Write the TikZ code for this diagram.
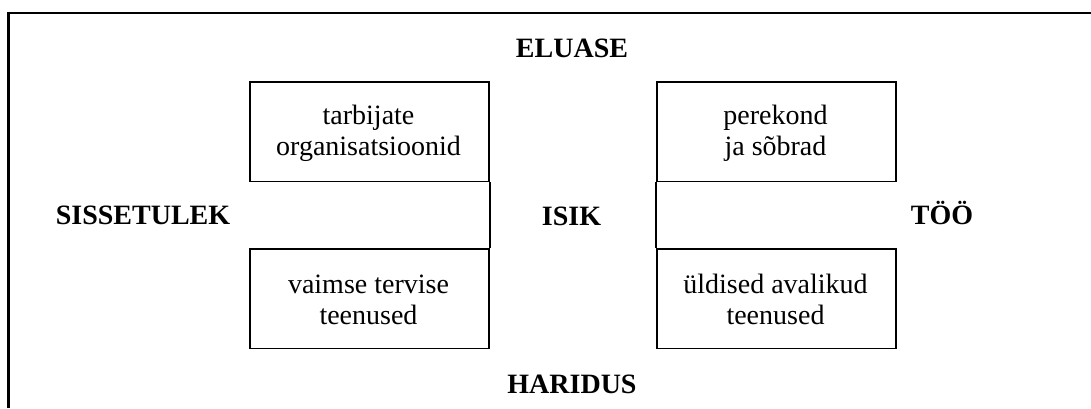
\documentclass[tikz,border=0pt]{standalone}
\usepackage{fontspec}
\setmainfont{Liberation Serif}
\begin{document}
\begin{tikzpicture}[x=1pt,y=-1pt,
  every node/.style={font=\fontsize{28}{31}\selectfont, inner sep=0pt},
  frameline/.style={line width=2.2pt},
  cell/.style={draw, line width=1.8pt, minimum width=239pt, minimum height=99.5pt, anchor=north west},
  celltext/.style={align=center, anchor=base},
  heading/.style={font=\fontsize{28}{31}\selectfont\bfseries, anchor=base},
  divider/.style={line width=1.8pt}
]
\useasboundingbox (0,0) rectangle (1091,408);

% open outer frame
\coordinate (fbl) at (8.5,408);
\coordinate (ftl) at (8.5,13);
\coordinate (ftr) at (1091,13);
\draw[frameline] (fbl) -- (ftl) -- (ftr);

% four corner boxes
\node[cell] (tl) at (249,81) {};
\node[cell] (tr) at (656,81) {};
\node[cell] (bl) at (249,248) {};
\node[cell] (br) at (656,248) {};

% box texts (anchored at the baseline of their last line)
\node[celltext] (tltext) at (368.5,155) {tarbijate\\organisatsioonid};
\node[celltext] (trtext) at (775.5,155) {perekond\\ja sõbrad};
\node[celltext] (bltext) at (368.5,324) {vaimse tervise\\teenused};
\node[celltext] (brtext) at (775.5,324) {üldised avalikud\\teenused};

% central cell
\draw[divider] (tl.south east) -- (bl.north east);
\draw[divider] (tr.south west) -- (br.north west);

% headings
\node[heading] (eluase) at (572,57) {ELUASE};
\node[heading] (haridus) at (572,393) {HARIDUS};
\node[heading] (isik) at (571.5,225) {ISIK};
\node[heading] (sissetulek) at (143,224) {SISSETULEK};
\node[heading] (too) at (942,224) {TÖÖ};
\end{tikzpicture}
\end{document}
